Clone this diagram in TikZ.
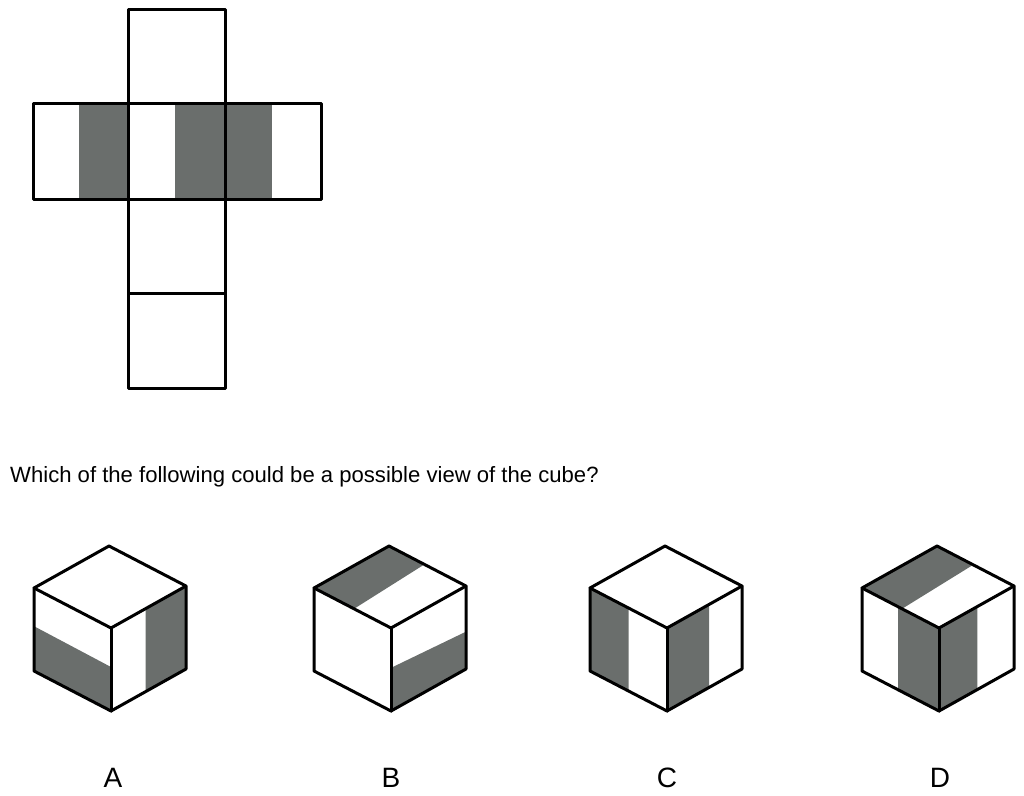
\documentclass[tikz,border=0pt]{standalone}
\usepackage{fontspec}
\setmainfont{Liberation Sans}
\usetikzlibrary{calc}
\definecolor{bandgray}{RGB}{106,110,108}
\tikzset{
  edge/.style={line width=3pt, line join=round, line cap=round},
  qtext/.style={font=\fontsize{22.1}{26}\selectfont, anchor=base west, inner sep=0pt},
  lbl/.style={font=\fontsize{28}{32}\selectfont, anchor=base, inner sep=0pt}
}
\newcommand{\defcube}[3]{%
  \coordinate (#1C) at (#2,#3);
  \coordinate (#1L) at ($(#1C)+(-77,-40)$);
  \coordinate (#1R) at ($(#1C)+(75,-42)$);
  \coordinate (#1T) at ($(#1C)+(-2,-82)$);
  \coordinate (#1B) at ($(#1C)+(0,83)$);
  \coordinate (#1LB) at ($(#1L)+(0,83)$);
  \coordinate (#1RB) at ($(#1R)+(0,83)$);
}
\newcommand{\cubeoutline}[1]{%
  \draw[edge] (#1L) -- (#1T) -- (#1R) -- (#1RB) -- (#1B) -- (#1LB) -- cycle;
  \draw[edge] (#1L) -- (#1C) -- (#1R);
  \draw[edge] (#1C) -- (#1B);
}
\begin{document}
\begin{tikzpicture}[x=1pt,y=-1pt]
\useasboundingbox (0,0) rectangle (1024,795);
% ---- net ----
\fill[bandgray] (79,103) rectangle (128,199);
\fill[bandgray] (175,103) rectangle (272,199);
\draw[edge] (128,9) rectangle (225,103);
\draw[edge] (33,103) rectangle (128,199);
\draw[edge] (128,103) rectangle (225,199);
\draw[edge] (225,103) rectangle (321,199);
\draw[edge] (128,199) rectangle (225,293);
\draw[edge] (128,293) rectangle (225,388);
% ---- question ----
\node[qtext] (q) at (10,482) {Which of the following could be a possible view of the cube?};
% ---- cube A ----
\defcube{a}{111}{628}
\fill[bandgray] ($(aL)!0.46!(aLB)$) -- ($(aC)!0.47!(aB)$) -- (aB) -- (aLB) -- cycle;
\fill[bandgray] ($(aC)!0.46!(aR)$) -- (aR) -- (aRB) -- ($(aB)!0.46!(aRB)$) -- cycle;
\cubeoutline{a}
% ---- cube B ----
\defcube{b}{391}{628}
\fill[bandgray] (bL) -- (bT) -- ($(bT)!0.46!(bR)$) -- ($(bL)!0.52!(bC)$) -- cycle;
\fill[bandgray] ($(bC)!0.48!(bB)$) -- ($(bR)!0.55!(bRB)$) -- (bRB) -- (bB) -- cycle;
\cubeoutline{b}
% ---- cube C ----
\defcube{c}{667}{628}
\fill[bandgray] (cL) -- ($(cL)!0.5!(cC)$) -- ($(cLB)!0.5!(cB)$) -- (cLB) -- cycle;
\fill[bandgray] (cC) -- ($(cC)!0.56!(cR)$) -- ($(cB)!0.56!(cRB)$) -- (cB) -- cycle;
\cubeoutline{c}
% ---- cube D ----
\defcube{d}{939}{628}
\fill[bandgray] (dL) -- (dT) -- ($(dT)!0.47!(dR)$) -- ($(dL)!0.52!(dC)$) -- cycle;
\fill[bandgray] ($(dL)!0.47!(dC)$) -- (dC) -- (dB) -- ($(dLB)!0.47!(dB)$) -- cycle;
\fill[bandgray] (dC) -- ($(dC)!0.51!(dR)$) -- ($(dB)!0.51!(dRB)$) -- (dB) -- cycle;
\cubeoutline{d}
% ---- labels ----
\node[lbl] (la) at (113,787) {A};
\node[lbl] (lb) at (391,787) {B};
\node[lbl] (lc) at (667,787) {C};
\node[lbl] (ld) at (940,787) {D};
\end{tikzpicture}
\end{document}
